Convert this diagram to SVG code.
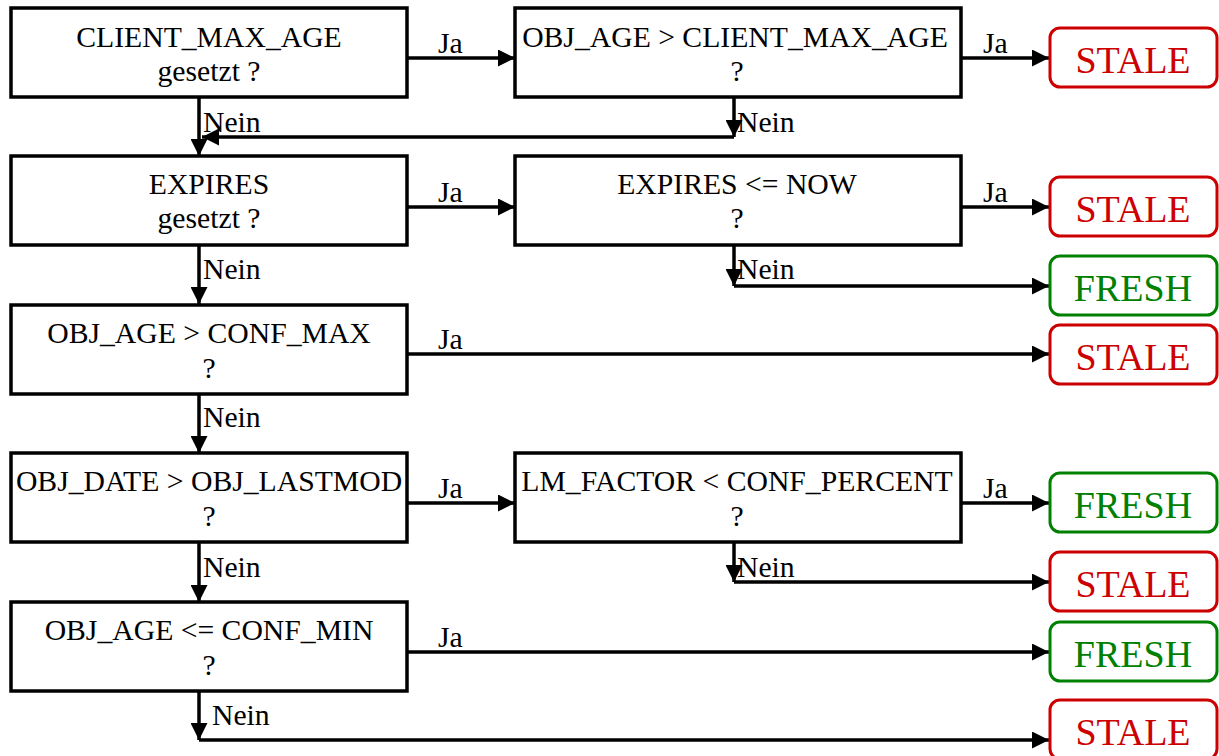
<svg xmlns="http://www.w3.org/2000/svg" width="1219" height="756" viewBox="0 0 1219 756">
<defs>
<marker id="arr" markerUnits="userSpaceOnUse" markerWidth="17" markerHeight="17" refX="17" refY="8.5" orient="auto" viewBox="0 0 17 17">
<path d="M0,0 L17,8.5 L0,17 z" fill="#000"/>
</marker>
<style>
.box{fill:#fff;stroke:#000;stroke-width:3.5}
.res{fill:#fff;stroke-width:3}
.stale{stroke:#cc0000}
.fresh{stroke:#008000}
.t{font-family:"Liberation Serif","Times New Roman",serif;font-size:29.7px;fill:#000}
.c{text-anchor:middle}
.rt{font-family:"Liberation Serif","Times New Roman",serif;font-size:38px;text-anchor:middle}
.rs{fill:#cc0000}
.rf{fill:#008000}
.ln{fill:none;stroke:#000;stroke-width:3.5}
</style>
</defs>
<g id="connectors">
<path class="ln" d="M407,58 H515" marker-end="url(#arr)"/>
<path class="ln" d="M961,58 H1049" marker-end="url(#arr)"/>
<path class="ln" d="M199,97 V156" marker-end="url(#arr)"/>
<path class="ln" d="M734,97 V137" marker-end="url(#arr)"/>
<path class="ln" d="M734,137 H202" marker-end="url(#arr)"/>
<path class="ln" d="M407,207 H515" marker-end="url(#arr)"/>
<path class="ln" d="M961,207 H1049" marker-end="url(#arr)"/>
<path class="ln" d="M199,245 V304" marker-end="url(#arr)"/>
<path class="ln" d="M734,245 V286" marker-end="url(#arr)"/>
<path class="ln" d="M734,286 H1049" marker-end="url(#arr)"/>
<path class="ln" d="M407,354 H1049" marker-end="url(#arr)"/>
<path class="ln" d="M199,394 V453" marker-end="url(#arr)"/>
<path class="ln" d="M407,503 H515" marker-end="url(#arr)"/>
<path class="ln" d="M961,503 H1049" marker-end="url(#arr)"/>
<path class="ln" d="M199,542 V602" marker-end="url(#arr)"/>
<path class="ln" d="M734,542 V582" marker-end="url(#arr)"/>
<path class="ln" d="M734,582 H1049" marker-end="url(#arr)"/>
<path class="ln" d="M407,652 H1049" marker-end="url(#arr)"/>
<path class="ln" d="M199,691 V740" marker-end="url(#arr)"/>
<path class="ln" d="M199,740 H1049" marker-end="url(#arr)"/>
<text class="t" x="438" y="53">Ja</text>
<text class="t" x="983" y="53">Ja</text>
<text class="t" x="203" y="132">Nein</text>
<text class="t" x="737" y="132">Nein</text>
<text class="t" x="438" y="202">Ja</text>
<text class="t" x="983" y="202">Ja</text>
<text class="t" x="203" y="279">Nein</text>
<text class="t" x="737" y="279">Nein</text>
<text class="t" x="438" y="349">Ja</text>
<text class="t" x="203" y="427">Nein</text>
<text class="t" x="438" y="498">Ja</text>
<text class="t" x="983" y="498">Ja</text>
<text class="t" x="203" y="577">Nein</text>
<text class="t" x="737" y="577">Nein</text>
<text class="t" x="438" y="647">Ja</text>
<text class="t" x="212" y="725">Nein</text>
</g>
<g id="n1"><rect class="box" x="11" y="8" width="396" height="89"/><text class="t c" x="209" y="47">CLIENT_MAX_AGE</text><text class="t c" x="209" y="81">gesetzt ?</text></g>
<g id="n2"><rect class="box" x="515" y="8" width="446" height="89"/><text class="t c" x="735" y="47">OBJ_AGE &gt; CLIENT_MAX_AGE</text><text class="t c" x="737" y="81">?</text></g>
<g id="n3"><rect class="box" x="11" y="156" width="396" height="89"/><text class="t c" x="209" y="194">EXPIRES</text><text class="t c" x="209" y="228">gesetzt ?</text></g>
<g id="n4"><rect class="box" x="515" y="156" width="446" height="89"/><text class="t c" x="737" y="194">EXPIRES &lt;= NOW</text><text class="t c" x="737" y="228">?</text></g>
<g id="n5"><rect class="box" x="11" y="305" width="396" height="89"/><text class="t c" x="209" y="343">OBJ_AGE &gt; CONF_MAX</text><text class="t c" x="209" y="378">?</text></g>
<g id="n6"><rect class="box" x="11" y="453" width="396" height="89"/><text class="t c" x="209" y="491">OBJ_DATE &gt; OBJ_LASTMOD</text><text class="t c" x="209" y="526">?</text></g>
<g id="n7"><rect class="box" x="515" y="453" width="446" height="89"/><text class="t c" x="737" y="491">LM_FACTOR &lt; CONF_PERCENT</text><text class="t c" x="737" y="526">?</text></g>
<g id="n8"><rect class="box" x="11" y="602" width="396" height="89"/><text class="t c" x="209" y="640">OBJ_AGE &lt;= CONF_MIN</text><text class="t c" x="209" y="675">?</text></g>
<g id="r1"><rect class="res stale" x="1050" y="28" width="167" height="59" rx="10"/><text class="rt rs" x="1133" y="73">STALE</text></g>
<g id="r2"><rect class="res stale" x="1050" y="177" width="167" height="59" rx="10"/><text class="rt rs" x="1133" y="222">STALE</text></g>
<g id="r3"><rect class="res fresh" x="1050" y="256" width="167" height="59" rx="10"/><text class="rt rf" x="1133" y="301">FRESH</text></g>
<g id="r4"><rect class="res stale" x="1050" y="325" width="167" height="59" rx="10"/><text class="rt rs" x="1133" y="370">STALE</text></g>
<g id="r5"><rect class="res fresh" x="1050" y="473" width="167" height="59" rx="10"/><text class="rt rf" x="1133" y="518">FRESH</text></g>
<g id="r6"><rect class="res stale" x="1050" y="552" width="167" height="59" rx="10"/><text class="rt rs" x="1133" y="597">STALE</text></g>
<g id="r7"><rect class="res fresh" x="1050" y="622" width="167" height="59" rx="10"/><text class="rt rf" x="1133" y="667">FRESH</text></g>
<g id="r8"><rect class="res stale" x="1050" y="700" width="167" height="59" rx="10"/><text class="rt rs" x="1133" y="745">STALE</text></g>
</svg>
